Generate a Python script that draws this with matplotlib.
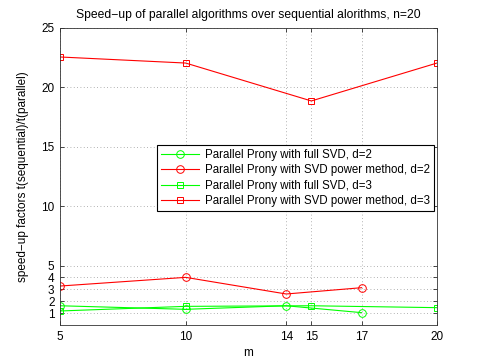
import matplotlib.pyplot as plt

plt.rcParams["font.family"] = "Liberation Sans"
plt.rcParams["font.size"] = 8

# data
m_full_d2 = [5, 10, 14, 17]
full_d2 = [1.62, 1.32, 1.62, 1.04]
m_pow_d2 = [5, 10, 14, 17]
pow_d2 = [3.28, 4.01, 2.61, 3.14]
m_full_d3 = [5, 10, 15, 20]
full_d3 = [1.18, 1.57, 1.62, 1.46]
m_pow_d3 = [5, 10, 15, 20]
pow_d3 = [22.56, 22.05, 18.86, 22.05]

xticks = [5, 10, 14, 15, 17, 20]
yticks = [1, 2, 3, 4, 5, 10, 15, 20, 25]

fig = plt.figure(figsize=(4.79, 3.58), dpi=100)
ax = fig.add_axes([60 / 479, 1 - 325 / 358, 377 / 479, 297 / 358])

kw = dict(lw=0.8, ms=5.5, mfc="none", mew=0.7)
ax.plot(m_full_d2, full_d2, "o-", color=(0, 1, 0), label="Parallel Prony with full SVD, d=2", **kw)
ax.plot(m_pow_d2, pow_d2, "o-", color=(1, 0, 0), label="Parallel Prony with SVD power method, d=2", **kw)
ax.plot(m_full_d3, full_d3, "s-", color=(0, 1, 0), label="Parallel Prony with full SVD, d=3", ms=5, lw=0.8, mfc="none", mew=0.7)
ax.plot(m_pow_d3, pow_d3, "s-", color=(1, 0, 0), label="Parallel Prony with SVD power method, d=3", ms=5, lw=0.8, mfc="none", mew=0.7)

ax.set_xlim(5, 20)
ax.set_ylim(0, 25)
ax.set_xticks(xticks)
ax.set_yticks(yticks)
ax.tick_params(direction="in", length=3, width=0.5, top=True, right=True, labelsize=8.5, pad=4)
ax.grid(True, linestyle=(0, (1, 3)), color="#999999", lw=0.6)
for s in ax.spines.values():
    s.set_linewidth(0.6)
    s.set_color("#333333")

ax.set_xlabel("m", fontsize=8.5, labelpad=3)
ax.set_ylabel("speed\u2212up factors t(sequential)/t(parallel)", fontsize=8.5, labelpad=9)
ax.set_title("Speed\u2212up of parallel algorithms over sequential alorithms, n=20", fontsize=8.7, pad=7)

leg = ax.legend(loc="upper left", bbox_to_anchor=((157 - 60) / 377, (325 - 145) / 297),
                fontsize=8.3, fancybox=False, framealpha=1, edgecolor="black",
                handlelength=3.3, handletextpad=0.5, borderpad=0.35, labelspacing=0.3,
                borderaxespad=0)
leg.get_frame().set_linewidth(0.8)

fig.savefig("out.png", dpi=100)
